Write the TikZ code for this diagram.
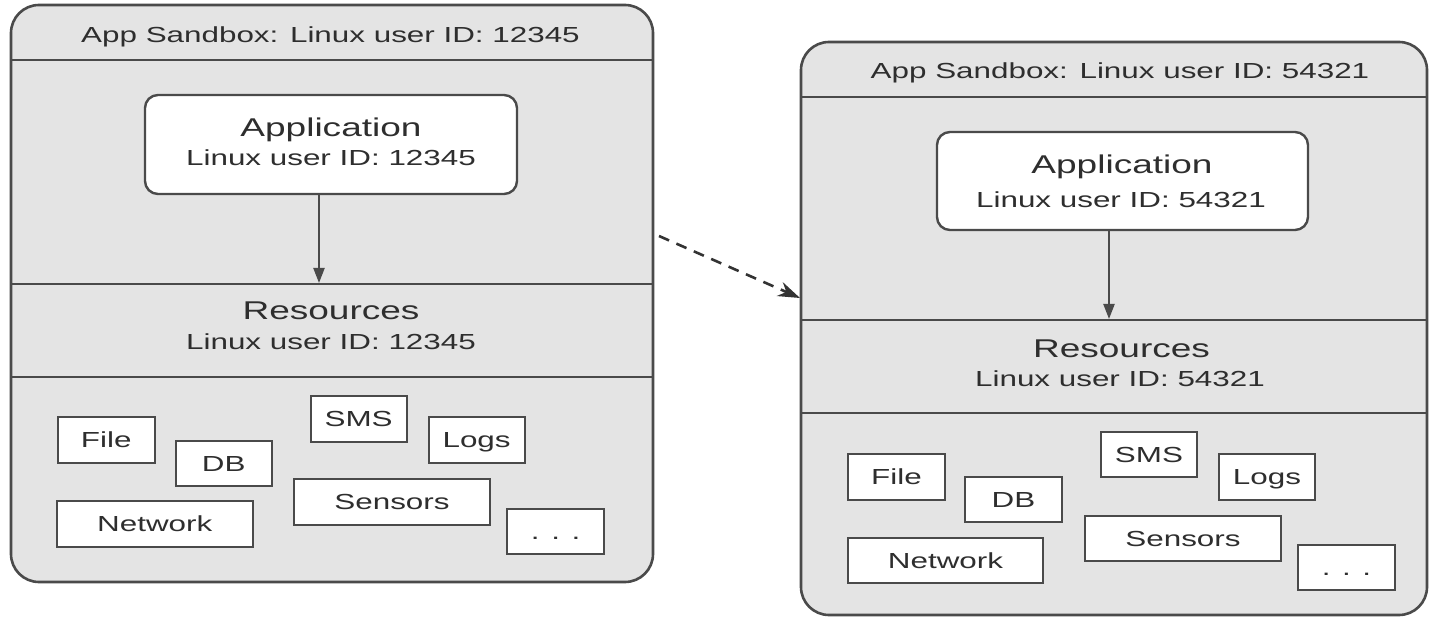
\documentclass[tikz,border=0pt]{standalone}
\usepackage{fontspec}
\setmainfont{Liberation Sans}
\newfontfamily\lbl[FakeStretch=1.44]{Liberation Sans}
\usetikzlibrary{arrows.meta}
\definecolor{boxgray}{HTML}{E4E4E4}
\definecolor{linegray}{HTML}{4A4A4A}
\definecolor{txt}{HTML}{2E2E2E}
\tikzset{
  sandbox/.style={draw=linegray, line width=2.6pt, fill=boxgray, rounded corners=28pt, inner sep=0pt, outer sep=0pt},
  sepline/.style={draw=linegray, line width=2.6pt},
  appbox/.style={draw=linegray, line width=2.4pt, fill=white, rounded corners=13pt, inner sep=0pt, outer sep=0pt},
  resbox/.style={draw=linegray, line width=2.2pt, fill=white, inner sep=0pt, outer sep=0pt, text=txt,
    font=\lbl\fontsize{21.8pt}{24pt}\selectfont, text height=15.6pt, text depth=0pt},
  normaltext/.style={anchor=base, inner sep=0pt, text=txt, font=\lbl\fontsize{21.8pt}{24pt}\selectfont},
  bigtext/.style={anchor=base, inner sep=0pt, text=txt, font=\lbl\fontsize{25.7pt}{28pt}\selectfont},
  arr/.style={draw=linegray, line width=2.2pt, -{Triangle[width=11pt,length=15pt]}},
  dasharr/.style={draw=black!80, line width=2.6pt, dash pattern=on 11pt off 8pt, -{Stealth[width=15pt,length=22pt]}}
}
\begin{document}
\begin{tikzpicture}[x=1pt,y=-1pt]
\useasboundingbox (0,0) rectangle (1430,617);

% ---------- left sandbox ----------
\node[sandbox, minimum width=642pt, minimum height=577pt] (lsb) at (332,293.5) {};
\draw[sepline] (11,60) -- (653,60);
\draw[sepline] (11,284) -- (653,284);
\draw[sepline] (11,377) -- (653,377);
\node[normaltext] (ltitle) at (330.5,43) {App Sandbox: Linux user ID: 12345};
\node[appbox, minimum width=372pt, minimum height=99pt] (lapp) at (331,144.5) {};
\node[bigtext] (lappname) at (331,137) {Application};
\node[normaltext] (lappid) at (331,166) {Linux user ID: 12345};
\coordinate (lres) at (319,283);
\draw[arr] (lapp.south -| lres) -- (lres);
\node[bigtext] (lresname) at (331,320) {Resources};
\node[normaltext] (lresid) at (331,350) {Linux user ID: 12345};
\node[resbox, minimum width=97pt, minimum height=46pt] (lfile) at (106.2,440) {File};
\node[resbox, minimum width=96pt, minimum height=45pt] (ldb) at (223.7,463.5) {DB};
\node[resbox, minimum width=96pt, minimum height=46pt] (lsms) at (358.6,419) {SMS};
\node[resbox, minimum width=96pt, minimum height=46pt] (llogs) at (476.6,440) {Logs};
\node[resbox, minimum width=196pt, minimum height=46pt] (lnet) at (154.8,524) {Network};
\node[resbox, minimum width=196pt, minimum height=46pt] (lsens) at (392,502) {Sensors};
\node[resbox, minimum width=97pt, minimum height=45pt] (ldots) at (555.7,531.5) {. . .};

% ---------- right sandbox ----------
\node[sandbox, minimum width=626pt, minimum height=573pt] (rsb) at (1114,328.5) {};
\draw[sepline] (801,97) -- (1427,97);
\draw[sepline] (801,320) -- (1427,320);
\draw[sepline] (801,413) -- (1427,413);
\node[normaltext] (rtitle) at (1120,79) {App Sandbox: Linux user ID: 54321};
\node[appbox, minimum width=371pt, minimum height=98pt] (rapp) at (1122.5,181) {};
\node[bigtext] (rappname) at (1122,174) {Application};
\node[normaltext] (rappid) at (1121,208) {Linux user ID: 54321};
\coordinate (rres) at (1109,319);
\draw[arr] (rapp.south -| rres) -- (rres);
\node[bigtext] (rresname) at (1121.5,358) {Resources};
\node[normaltext] (rresid) at (1120,387) {Linux user ID: 54321};
\node[resbox, minimum width=97pt, minimum height=46pt] (rfile) at (896.5,477) {File};
\node[resbox, minimum width=97pt, minimum height=45pt] (rdb) at (1013.5,499.5) {DB};
\node[resbox, minimum width=96pt, minimum height=45pt] (rsms) at (1149,454.5) {SMS};
\node[resbox, minimum width=96pt, minimum height=46pt] (rlogs) at (1267,477) {Logs};
\node[resbox, minimum width=195pt, minimum height=45pt] (rnet) at (945.5,560.5) {Network};
\node[resbox, minimum width=196pt, minimum height=45pt] (rsens) at (1183,538.5) {Sensors};
\node[resbox, minimum width=97pt, minimum height=45pt] (rdots) at (1346.5,567.5) {. . .};

% ---------- dashed arrow ----------
\coordinate (dstart) at (659,236);
\coordinate (dend) at (800,298);
\draw[dasharr] (dstart) -- (dend);
\end{tikzpicture}
\end{document}
